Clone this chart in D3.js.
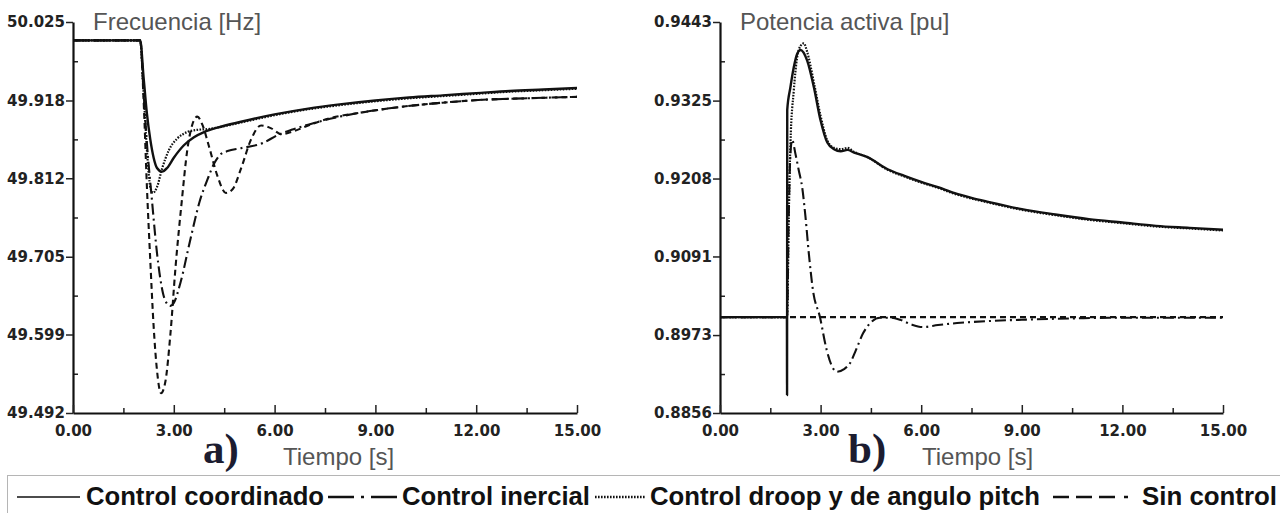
<!DOCTYPE html>
<html>
<head>
<meta charset="utf-8">
<script src="https://cdn.jsdelivr.net/npm/d3@7"></script>
<style>
  body { margin: 0; background: #fff; }
  svg { display: block; }
  .tick text { font-family: "DejaVu Sans", sans-serif; font-weight: bold; font-size: 15px; fill: #222; }
</style>
</head>
<body>
<svg id="chart" width="1280" height="513"></svg>
<script>
var width = 1280, height = 513;

// time axis shared by both panels
var timeTicks = [0, 3, 6, 9, 12, 15];

// a) frecuencia [Hz]
var freqTicks = [49.492, 49.599, 49.705, 49.812, 49.918, 50.025];

var freqCoordinado = [[0,50.0],[2.0,50.0],[2.1,49.95],[2.2,49.90],[2.3,49.865],[2.4,49.84],[2.5,49.826],
  [2.65,49.821],[2.8,49.826],[3.0,49.84],[3.3,49.857],[3.6,49.868],[3.9,49.875],[4.3,49.881],[5.0,49.889],
  [6.0,49.899],[7.0,49.907],[8.0,49.913],[9.0,49.918],[10.0,49.922],[11.0,49.925],[12.0,49.928],
  [13.0,49.931],[14.0,49.933],[15.0,49.935]];

var freqInercial = [[0,50.0],[2.0,50.0],[2.1,49.93],[2.2,49.86],[2.35,49.782],[2.5,49.71],[2.68,49.655],
  [2.8,49.641],[2.9,49.638],[3.0,49.642],[3.2,49.67],[3.5,49.73],[3.78,49.782],[4.0,49.81],[4.2,49.832],
  [4.4,49.845],[4.6,49.849],[5.0,49.853],[5.65,49.86],[6.1,49.871],[6.5,49.878],[7.0,49.885],[7.65,49.893],
  [8.5,49.901],[9.7,49.909],[11.0,49.915],[12.2,49.919],[13.5,49.921],[15.0,49.923]];

var freqDroop = [[0,50.0],[2.0,50.0],[2.1,49.93],[2.2,49.85],[2.3,49.80],[2.38,49.792],[2.5,49.80],
  [2.65,49.825],[2.85,49.85],[3.1,49.866],[3.4,49.875],[3.7,49.878],[4.0,49.879],[4.5,49.883],[5.0,49.888],
  [6.0,49.898],[7.0,49.906],[8.0,49.912],[9.0,49.917],[10.0,49.921],[11.0,49.924],[12.0,49.927],
  [13.0,49.930],[14.0,49.932],[15.0,49.934]];

var freqSinControl = [[0,50.0],[2.0,50.0],[2.1,49.92],[2.2,49.80],[2.3,49.70],[2.4,49.61],[2.5,49.55],
  [2.62,49.519],[2.75,49.535],[2.9,49.60],[3.05,49.69],[3.24,49.782],[3.4,49.85],[3.55,49.885],[3.7,49.896],
  [3.85,49.885],[4.05,49.855],[4.3,49.815],[4.55,49.792],[4.75,49.797],[5.0,49.825],[5.3,49.865],[5.6,49.884],
  [5.9,49.88],[6.2,49.872],[6.5,49.875],[7.0,49.884],[7.65,49.894],[8.5,49.901],[9.7,49.909],[11.0,49.915],
  [12.2,49.919],[13.5,49.921],[15.0,49.923]];

// b) potencia activa [pu]
var powTicks = [0.8856, 0.8973, 0.9091, 0.9208, 0.9325, 0.9443];

var powCoordinado = [[0,0.9],[1.995,0.9],[2.0,0.8883],[2.005,0.9311],[2.1,0.9345],[2.2,0.9375],[2.3,0.9395],
  [2.4,0.9401],[2.6,0.9385],[2.8,0.9345],[3.0,0.9295],[3.2,0.9262],[3.4,0.9252],[3.6,0.9249],[3.8,0.9251],
  [4.0,0.9247],[4.4,0.924],[5.0,0.9222],[5.5,0.9212],[6.0,0.9203],[6.5,0.9195],[7.0,0.9186],[7.5,0.9179],
  [8.0,0.9173],[9.0,0.9162],[10.0,0.9154],[11.0,0.9147],[12.0,0.9142],[13.0,0.9137],[14.0,0.9134],[15.0,0.9131]];

var powInercial = [[0,0.9],[2.0,0.9],[2.05,0.915],[2.1,0.9245],[2.15,0.9266],[2.25,0.9245],[2.35,0.922],
  [2.45,0.9195],[2.55,0.915],[2.65,0.9095],[2.77,0.9041],[2.98,0.900],[3.18,0.8951],[3.35,0.8925],
  [3.49,0.8918],[3.7,0.8922],[3.88,0.8931],[4.05,0.895],[4.27,0.8976],[4.5,0.8992],[4.77,0.8999],
  [5.1,0.8999],[5.37,0.8996],[5.7,0.8989],[6.05,0.8985],[6.5,0.8988],[7.07,0.8991],[8.0,0.8994],
  [9.0,0.8996],[10.5,0.8998],[12.0,0.8999],[15.0,0.8999]];

var powDroop = [[0,0.9],[2.0,0.9],[2.05,0.915],[2.1,0.926],[2.2,0.934],[2.3,0.939],[2.4,0.9407],[2.5,0.9411],
  [2.6,0.9398],[2.8,0.9352],[3.0,0.9302],[3.2,0.9265],[3.4,0.9254],[3.6,0.9252],[3.8,0.9254],[4.0,0.9248],
  [4.4,0.924],[5.0,0.9221],[5.5,0.9211],[6.0,0.9202],[6.5,0.9194],[7.0,0.9185],[7.5,0.9178],[8.0,0.9172],
  [9.0,0.9161],[10.0,0.9153],[11.0,0.9146],[12.0,0.9141],[13.0,0.9136],[14.0,0.9133],[15.0,0.913]];

var powSinControl = [[0,0.9],[2.0,0.9],[6.0,0.9],[10.0,0.9],[15.0,0.9]];

// legend
var legendLabels = ['Control coordinado', 'Control inercial', 'Control droop y de angulo pitch', 'Sin control'];

// line styles, same order as legend
var styles = [
  {dash: null, w: 2.4},
  {dash: '11,4,2,4', w: 2.1},
  {dash: '1.6,1.4', w: 2.2},
  {dash: '6,4', w: 2.1}
];

var svg = d3.select('#chart');

function drawPanel(opt) {
  var x = d3.scaleLinear().domain([0, 15]).range([opt.left, opt.right]);
  var y = d3.scaleLinear().domain(d3.extent(opt.ticks)).range([413, 22]);
  var g = svg.append('g');

  // minor ticks at half steps, pointing inwards
  var yMinor = d3.pairs(opt.ticks).map(function(p) { return (p[0] + p[1]) / 2; });
  var xMinor = d3.pairs(timeTicks).map(function(p) { return (p[0] + p[1]) / 2; });

  g.append('g').attr('transform', 'translate(' + opt.left + ',0)')
    .call(d3.axisLeft(y).tickValues(yMinor).tickSize(-5).tickFormat(''))
    .call(function(a) { a.select('.domain').remove(); });
  g.append('g').attr('transform', 'translate(0,413)')
    .call(d3.axisBottom(x).tickValues(xMinor).tickSize(-5).tickFormat(''))
    .call(function(a) { a.select('.domain').remove(); });

  g.append('g').attr('transform', 'translate(' + opt.left + ',0)')
    .call(d3.axisLeft(y).tickValues(opt.ticks).tickFormat(d3.format(opt.fmt)).tickSize(7).tickSizeOuter(0).tickPadding(1));
  g.append('g').attr('transform', 'translate(0,413)')
    .call(d3.axisBottom(x).tickValues(timeTicks).tickFormat(d3.format('.2f')).tickSize(-8).tickSizeOuter(0).tickPadding(12));

  g.selectAll('.domain').attr('stroke', '#111').attr('stroke-width', 2.2);
  g.selectAll('.tick line').attr('stroke', '#222').attr('stroke-width', 1.5);

  var line = d3.line()
    .x(function(d) { return x(d[0]); })
    .y(function(d) { return y(d[1]); })
    .curve(d3.curveMonotoneX);

  // draw back to front so the solid curve sits on top
  [3, 1, 2, 0].forEach(function(i) {
    g.append('path')
      .datum(opt.series[i])
      .attr('fill', 'none')
      .attr('stroke', '#111')
      .attr('stroke-width', styles[i].w)
      .attr('stroke-dasharray', styles[i].dash)
      .attr('stroke-linejoin', 'round')
      .attr('d', line);
  });

  g.append('text')
    .attr('x', opt.titleX).attr('y', 30)
    .style('font-family', '"Liberation Sans", Arial, sans-serif')
    .style('font-size', '24px').attr('fill', '#555')
    .text(opt.title);

  g.append('text')
    .attr('x', opt.tagX).attr('y', 463)
    .style('font-family', '"Liberation Serif", "Times New Roman", serif')
    .style('font-weight', 'bold').style('font-size', '43px').attr('fill', '#1c1c30')
    .text(opt.tag);

  g.append('text')
    .attr('x', opt.xLabelX).attr('y', 465)
    .style('font-family', '"Liberation Sans", Arial, sans-serif')
    .style('font-size', '24px').attr('fill', '#555')
    .text('Tiempo [s]');
}

drawPanel({
  left: 73, right: 577, ticks: freqTicks, fmt: '.3f',
  series: [freqCoordinado, freqInercial, freqDroop, freqSinControl],
  title: 'Frecuencia [Hz]', titleX: 93, tag: 'a)', tagX: 203, xLabelX: 283
});

drawPanel({
  left: 720, right: 1223, ticks: powTicks, fmt: '.4f',
  series: [powCoordinado, powInercial, powDroop, powSinControl],
  title: 'Potencia activa [pu]', titleX: 740, tag: 'b)', tagX: 848, xLabelX: 922
});

// legend box along the bottom
var leg = svg.append('g');
leg.append('rect')
  .attr('x', 7.5).attr('y', 475.5).attr('width', 1290).attr('height', 60)
  .attr('fill', 'none').attr('stroke', '#b5b5b5');

// symbol and label spans in the legend row
var symbolSpan = [[17, 80], [328, 398], [595, 645], [1053, 1132]];
var labelSpan = [[86, 324], [402, 590], [650, 1040], [1142, 1277]];
var legendDash = [null, '26,7,3,7,26', '1.6,1.4', '16,7,16,7,16,9,4,10'];

legendLabels.forEach(function(label, i) {
  leg.append('line')
    .attr('x1', symbolSpan[i][0]).attr('x2', symbolSpan[i][1]).attr('y1', 497).attr('y2', 497)
    .attr('stroke', '#111').attr('stroke-width', i === 0 ? 1.5 : 2.4)
    .attr('stroke-dasharray', legendDash[i]);
  leg.append('text')
    .attr('x', labelSpan[i][0]).attr('y', 505)
    .attr('textLength', labelSpan[i][1] - labelSpan[i][0])
    .attr('lengthAdjust', 'spacingAndGlyphs')
    .style('font-family', '"Liberation Sans", Arial, sans-serif')
    .style('font-weight', 'bold').style('font-size', '25px').attr('fill', '#111')
    .text(label);
});
</script>
</body>
</html>
